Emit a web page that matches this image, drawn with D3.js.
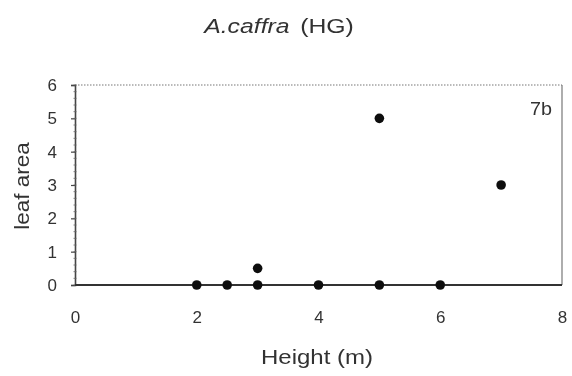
<!DOCTYPE html>
<html>
<head>
<meta charset="utf-8">
<script src="https://cdn.jsdelivr.net/npm/d3@7"></script>
<style>
  body { margin: 0; background: #fff; }
  svg { display: block; }
  text { font-family: "Liberation Sans", Arial, sans-serif; fill: #333; }
</style>
</head>
<body>
<svg id="chart" width="572" height="376"></svg>
<script>
// Tree height (m) vs. leaf area, A. caffra (HG)
const heights  = [2, 2.5, 3, 3, 4, 5, 5, 6, 7];
const leafArea = [0, 0,   0, 0.5, 0, 0, 5, 0, 3];
const xTicks = [0, 2, 4, 6, 8];
const yTicks = [0, 1, 2, 3, 4, 5, 6];

const svg = d3.select("#chart");
const plotLeft = 75, plotRight = 562, plotTop = 85, plotBottom = 285;

const x = d3.scaleLinear().domain([0, 8]).range([plotLeft, plotRight]);
const y = d3.scaleLinear().domain([0, 6]).range([plotBottom, plotTop]);

svg.append("defs").append("filter").attr("id", "soft")
  .append("feGaussianBlur").attr("stdDeviation", 0.6);

const g = svg.append("g").attr("filter", "url(#soft)");

// horizontally widened text label
function label(px, py, size, str, opts = {}) {
  const grp = g.append("g")
    .attr("transform", `translate(${px},${py}) rotate(${opts.rotate || 0}) scale(${opts.stretch || 1.18},1)`);
  return grp.append("text").attr("text-anchor", opts.anchor || "middle")
    .style("font-size", size + "px").text(str);
}

// dotted top frame, thin right frame
g.append("line")
  .attr("x1", plotLeft).attr("x2", plotRight).attr("y1", plotTop).attr("y2", plotTop)
  .attr("stroke", "#777").attr("stroke-width", 1.2).attr("stroke-dasharray", "1.5,1.5");
g.append("line")
  .attr("x1", plotRight).attr("x2", plotRight).attr("y1", plotTop).attr("y2", plotBottom)
  .attr("stroke", "#777").attr("stroke-width", 1.2);

// y axis with minor ticks
const yAxis = d3.axisLeft(y).tickValues(yTicks).tickSize(4).tickPadding(14).tickFormat(d3.format("d"));
const ya = g.append("g").attr("transform", `translate(${plotLeft},0)`).call(yAxis);
ya.select(".domain").attr("stroke", "#444").attr("stroke-width", 1.6);
ya.selectAll(".tick line").attr("stroke", "#444").attr("stroke-width", 1.2);
ya.selectAll(".tick text").style("font-size", "17px").attr("fill", "#333")
  .style("font-family", "'Liberation Sans', Arial, sans-serif");

g.append("g").selectAll("line")
  .data(d3.range(0, 6.01, 0.2))
  .join("line")
  .attr("x1", plotLeft - 1.5).attr("x2", plotLeft + 1.5)
  .attr("y1", d => y(d)).attr("y2", d => y(d))
  .attr("stroke", "#666").attr("stroke-width", 0.8);

// x axis: labels only, heavy baseline at 0
const xAxis = d3.axisBottom(x).tickValues(xTicks).tickSize(0).tickPadding(26).tickFormat(d3.format("d"));
const xa = g.append("g").attr("transform", `translate(0,${plotBottom})`).call(xAxis);
xa.select(".domain").remove();
xa.selectAll(".tick text").style("font-size", "17px").attr("fill", "#333")
  .style("font-family", "'Liberation Sans', Arial, sans-serif");

g.append("line")
  .attr("x1", plotLeft).attr("x2", plotRight).attr("y1", y(0)).attr("y2", y(0))
  .attr("stroke", "#333").attr("stroke-width", 2);

// points
g.append("g").selectAll("circle")
  .data(heights.map((h, i) => [h, leafArea[i]]))
  .join("circle")
  .attr("cx", d => x(d[0])).attr("cy", d => y(d[1]))
  .attr("r", 4.8).attr("fill", "#111");

// titles and labels
const title = label(279, 33, 21, null);
title.append("tspan").style("font-style", "italic").text("A.caffra");
title.append("tspan").attr("dx", 9).text("(HG)");

label(552, 115, 18, "7b", { anchor: "end", stretch: 1.1 });

label(317, 364, 20, "Height (m)", { stretch: 1.2 });

label(29, 186, 21, "leaf area", { rotate: -90, stretch: 1.07 });
</script>
</body>
</html>
